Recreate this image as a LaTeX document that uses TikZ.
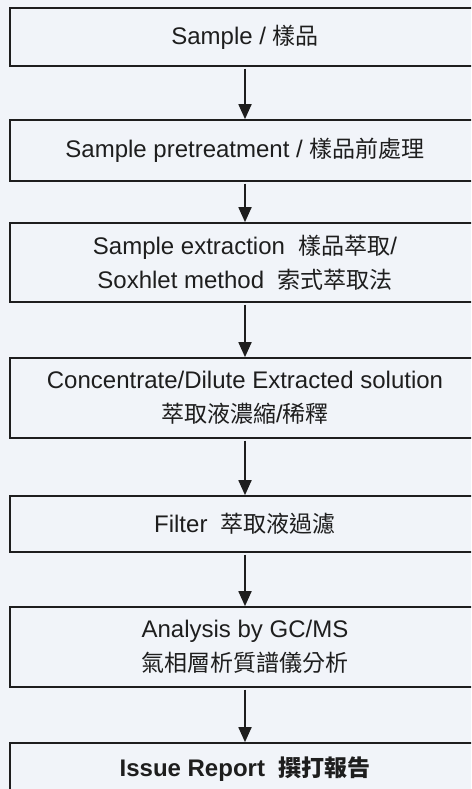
\documentclass[tikz,border=0pt]{standalone}
\usepackage{fontspec}
\setmainfont{Liberation Sans}
\newfontfamily\cjk{Noto Sans CJK TC}
\usetikzlibrary{arrows.meta}
\definecolor{bgcol}{RGB}{241,244,249}
\definecolor{ink}{RGB}{30,30,30}
\newcommand\zh[1]{{\cjk\fontsize{23}{34}\selectfont #1}}
\begin{document}
\begin{tikzpicture}[x=1pt,y=-1pt,
  stepbox/.style={draw=ink, line width=1.7pt, rectangle, minimum width=470pt,
    inner sep=0pt, align=center, text=ink,
    font=\fontsize{24}{34}\selectfont},
  flow/.style={draw=ink, fill=ink, line width=1.8pt,
    -{Triangle[length=15pt,width=13pt]}}]
\useasboundingbox (0,0) rectangle (471,789);
\fill[bgcol] (0,0) rectangle (471,789);
\clip (0,0) rectangle (471,789);
\node[stepbox, minimum height=58pt] (b1) at (245,37) {Sample / \zh{樣品}};
\node[stepbox, minimum height=61pt] (b2) at (245,150.5) {Sample pretreatment / \zh{樣品前處理}};
\node[stepbox, minimum height=79pt] (b3) at (245,262.5) {Sample extraction\ \ \zh{樣品萃取}/\\Soxhlet method\ \ \zh{索式萃取法}};
\node[stepbox, minimum height=80pt] (b4) at (245,398) {Concentrate/Dilute Extracted solution\\\zh{萃取液濃縮}/\zh{稀釋}};
\node[stepbox, minimum height=56pt] (b5) at (245,524) {Filter\ \ \zh{萃取液過濾}};
\node[stepbox, minimum height=80pt] (b6) at (245,647) {Analysis by GC/MS\\\zh{氣相層析質譜儀分析}};
\node[stepbox, minimum height=52pt, font=\fontsize{24}{34}\selectfont\bfseries] (b7) at (245,769) {Issue Report\ \ \zh{\bfseries 撰打報告}};
\draw[flow] ([yshift=-2pt]b1.south) -- (b2.north);
\draw[flow] ([yshift=-2pt]b2.south) -- (b3.north);
\draw[flow] ([yshift=-2pt]b3.south) -- (b4.north);
\draw[flow] ([yshift=-2pt]b4.south) -- (b5.north);
\draw[flow] ([yshift=-2pt]b5.south) -- (b6.north);
\draw[flow] ([yshift=-2pt]b6.south) -- (b7.north);
\end{tikzpicture}
\end{document}
